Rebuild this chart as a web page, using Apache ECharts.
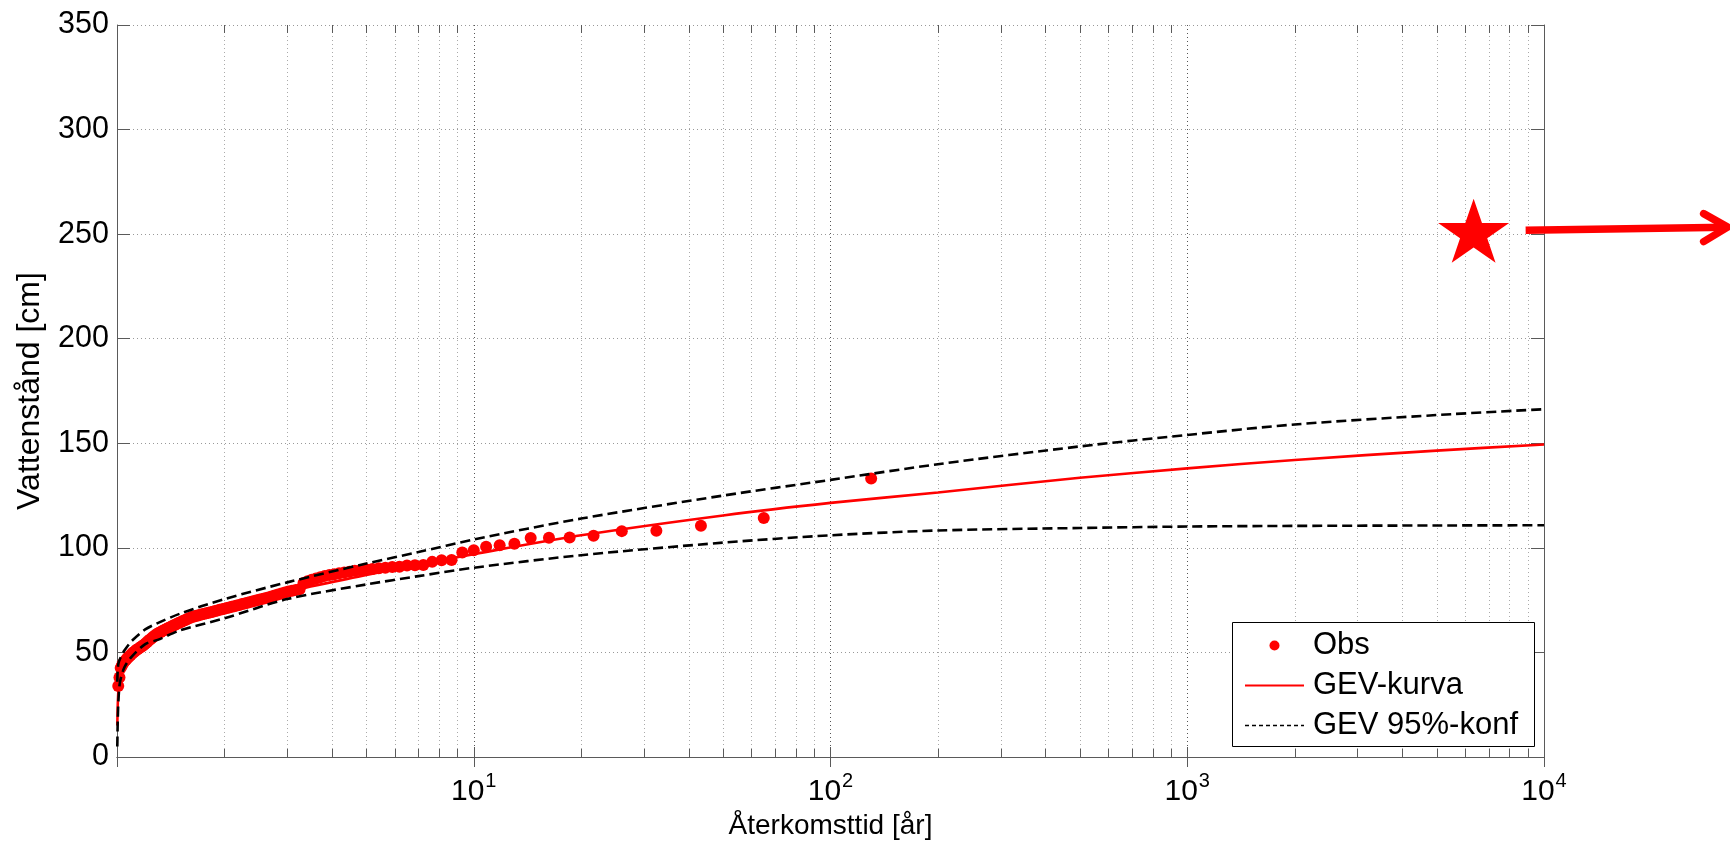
<!DOCTYPE html>
<html><head><meta charset="utf-8">
<script src="https://cdn.jsdelivr.net/npm/echarts@6/dist/echarts.min.js"></script>
<style>html,body{margin:0;padding:0;background:#fff}#c{width:1730px;height:845px}</style>
</head><body><div id="c"></div>
<script>
// Observations: return period [år] and water level [cm]
const obsT = [130,65,43.33,32.5,26,21.67,18.57,16.25,14.44,13,
11.82,10.83,10,9.286,8.667,8.125,7.647,7.222,6.842,6.5,
6.190,5.909,5.652,5.417,5.2,5,4.815,4.643,4.483,4.333,
4.194,4.063,3.939,3.824,3.714,3.611,3.514,3.421,3.333,3.25,
3.171,3.095,3.023,2.955,2.889,2.826,2.766,2.708,2.653,2.6,
2.549,2.5,2.453,2.407,2.364,2.321,2.281,2.241,2.203,2.167,
2.131,2.097,2.063,2.031,2,1.970,1.940,1.912,1.884,1.857,
1.831,1.806,1.781,1.757,1.733,1.711,1.688,1.667,1.646,1.625,
1.605,1.585,1.566,1.548,1.529,1.512,1.494,1.477,1.461,1.444,
1.429,1.413,1.398,1.383,1.368,1.354,1.340,1.327,1.313,1.3,
1.287,1.275,1.262,1.25,1.238,1.226,1.215,1.204,1.193,1.182,
1.171,1.161,1.150,1.140,1.130,1.121,1.111,1.102,1.092,1.083,
1.074,1.066,1.057,1.048,1.04,1.032,1.024,1.016,1.008];
const obsV = [133.2,114.3,110.6,108.2,108.0,105.8,104.9,104.8,104.7,102.0,
101.2,100.5,98.9,97.8,94.2,94.1,93.3,91.8,91.7,91.6,
91.0,90.8,90.5,90.2,89.9,89.6,89.3,89.0,88.6,88.2,
87.8,87.4,87.0,86.6,86.0,85.4,84.8,84.0,83.2,80.2,
79.8,79.5,79.1,78.7,78.2,77.7,77.2,76.7,76.3,75.9,
75.5,75.2,74.8,74.5,74.1,73.8,73.4,73.1,72.7,72.4,
72.1,71.8,71.5,71.2,70.9,70.6,70.4,70.1,69.8,69.5,
69.2,69.0,68.7,68.5,68.2,68.0,67.7,67.5,67.2,67.0,
66.6,66.2,65.8,65.4,65.0,64.6,64.2,63.8,63.4,63.0,
62.6,62.2,61.8,61.4,61.0,60.6,60.2,59.8,59.4,59.0,
58.5,58.0,57.4,56.8,56.2,55.6,55.0,54.4,53.8,53.2,
52.8,52.3,51.9,51.4,51.0,50.5,50.0,49.4,48.8,48.2,
47.6,47.0,46.3,45.6,44.8,43.8,42.5,38.0,34.0];

// GEV curve and 95% confidence bounds
const curveT = [1.002,1.005,1.01,1.02,1.05,1.1,1.2,1.3,1.5,2,3,5,7,10,20,50,100,200,500,1000,2000,5000,10000];
const gevV   = [15,25,33,40,45.5,50.5,55.5,59,64,70.5,79,87,92,97,106,115.5,121.5,126.5,133.5,138,142,146.5,149.4];
const upperV = [36,42,45,47,51,55.5,61,64,68.5,75.5,83.5,92.5,98,104,114,125,132.5,140,148.5,154,159,163.5,166.3];
const lowerV = [5,18,28,36,43,48,54,56,60.5,66.3,75.5,82.5,86.5,90.5,96.5,102.5,106,108.3,109.5,110.2,110.5,110.7,110.8];

// Marked level (star)
const starPoint = [6350, 250];

// Axis ticks
const yTicks = [0,50,100,150,200,250,300,350];
const minorXTicks = [2,3,4,5,6,7,8,9,20,30,40,50,60,70,80,90,200,300,400,500,600,700,800,900,2000,3000,4000,5000,6000,7000,8000,9000];

const FONT = '"Liberation Sans", Arial, Helvetica, sans-serif';
const zip = (a, b) => a.map((v, i) => [v, b[i]]);
const STAR = 'path://M50,0 L61.2,34.5 L97.6,34.5 L68.2,55.9 L79.4,90.5 L50,69.1 L20.6,90.5 L31.8,55.9 L2.4,34.5 L38.8,34.5 Z';

const chart = echarts.init(document.getElementById('c'), null, {renderer: 'canvas', width: 1730, height: 845});

const xLabelFmt = function (v) {
  const e = Math.round(Math.log10(v));
  if (e === 0) return '';
  return '{b|10}{s|' + e + '}';
};

const axisLineStyle = {color: '#5a5a5a', width: 1};

const option = {
  backgroundColor: '#fff',
  animation: false,
  grid: {left: 117, right: 186, top: 25, bottom: 88},
  xAxis: [{
    type: 'log', logBase: 10, min: 1, max: 10000,
    name: 'Återkomsttid [år]', nameLocation: 'middle', nameGap: 54,
    nameTextStyle: {fontSize: 28, fontFamily: FONT, color: '#000'},
    axisLine: {show: true, lineStyle: axisLineStyle},
    axisTick: {show: true, inside: true, length: 10, lineStyle: {color: '#5a5a5a'}},
    axisLabel: {
      formatter: xLabelFmt, margin: 14, color: '#000',
      rich: {
        b: {fontSize: 30, fontFamily: FONT, color: '#000', lineHeight: 36, verticalAlign: 'bottom'},
        s: {fontSize: 20, fontFamily: FONT, color: '#000', lineHeight: 36, verticalAlign: 'top', padding: [0, 0, 0, 1]}
      }
    },
    splitLine: {show: true, lineStyle: {color: '#555', width: 1, type: [1, 3]}}
  }, {
    type: 'log', logBase: 10, min: 1, max: 10000, position: 'top',
    axisLine: {show: true, lineStyle: axisLineStyle},
    axisTick: {show: true, inside: true, length: 10, lineStyle: {color: '#5a5a5a'}},
    axisLabel: {show: false}, splitLine: {show: false}
  }],
  yAxis: [{
    type: 'value', min: 0, max: 350, interval: 50,
    name: 'Vattenstånd [cm]', nameLocation: 'middle', nameGap: 71, nameRotate: 90,
    nameTextStyle: {fontSize: 32, fontFamily: FONT, color: '#000'},
    axisLine: {show: true, lineStyle: axisLineStyle},
    axisTick: {show: true, inside: true, length: 13, lineStyle: {color: '#5a5a5a'}},
    axisLabel: {fontSize: 30.5, fontFamily: FONT, color: '#000', margin: 8,
      formatter: v => yTicks.indexOf(v) >= 0 ? String(v) : ''},
    splitLine: {show: true, lineStyle: {color: '#999', width: 1, type: [1, 3]}}
  }, {
    type: 'value', min: 0, max: 350, interval: 50, position: 'right',
    axisLine: {show: true, lineStyle: axisLineStyle},
    axisTick: {show: true, inside: true, length: 13, lineStyle: {color: '#5a5a5a'}},
    axisLabel: {show: false}, splitLine: {show: false}
  }],
  legend: {
    orient: 'vertical', left: 1244, top: 630, padding: 0,
    itemWidth: 59, itemHeight: 10, itemGap: 9, z: 7,
    textStyle: {fontSize: 31, fontFamily: FONT, color: '#000', lineHeight: 31, padding: [0, 0, 0, 4]},
    data: [
      {name: 'Obs', icon: 'circle', itemStyle: {color: '#ff0000', opacity: 1}},
      {name: 'GEV-kurva', itemStyle: {opacity: 0}, lineStyle: {width: 2, color: '#ff0000', type: 'solid', opacity: 1}},
      {name: 'GEV 95%-konf', itemStyle: {opacity: 0}, lineStyle: {width: 1.3, color: '#000', type: [4, 3], opacity: 1}}
    ]
  },
  series: [
    {
      type: 'custom', name: 'minor', silent: true, z: 1,
      data: minorXTicks.map(v => [v, 0]),
      encode: {x: 0, y: 1},
      renderItem: function (params, api) {
        const x = api.value(0);
        const b = api.coord([x, 0]);
        const t = api.coord([x, 350]);
        const X = Math.round(b[0]) + 0.5;
        return {type: 'group', children: [
          {type: 'line', shape: {x1: X, y1: b[1], x2: X, y2: t[1]}, style: {stroke: '#aaa', lineWidth: 1, lineDash: [1, 3]}},
          {type: 'line', shape: {x1: X, y1: b[1], x2: X, y2: b[1] - 8}, style: {stroke: '#5a5a5a', lineWidth: 1}},
          {type: 'line', shape: {x1: X, y1: t[1], x2: X, y2: t[1] + 8}, style: {stroke: '#5a5a5a', lineWidth: 1}}
        ]};
      }
    },
    {
      type: 'scatter', name: 'Obs', data: zip(obsT, obsV), z: 3,
      symbol: 'circle', symbolSize: 12, itemStyle: {color: '#ff0000', opacity: 1}
    },
    {
      type: 'line', name: 'GEV-kurva', data: zip(curveT, gevV), z: 4,
      symbol: 'none', smooth: 0.3, lineStyle: {color: '#ff0000', width: 2.6}, itemStyle: {color: '#ff0000'}
    },
    {
      type: 'line', name: 'GEV 95%-konf', data: zip(curveT, upperV), z: 5,
      symbol: 'none', smooth: 0.3, lineStyle: {color: '#000', width: 2.6, type: [10, 5]}, itemStyle: {color: '#000'}
    },
    {
      type: 'line', name: 'GEV 95%-konf', data: zip(curveT, lowerV), z: 5,
      symbol: 'none', smooth: 0.3, lineStyle: {color: '#000', width: 2.6, type: [10, 5]}, itemStyle: {color: '#000'}
    },
    {
      type: 'scatter', name: 'star', data: [starPoint], z: 6,
      symbol: STAR, symbolSize: [71, 64], symbolOffset: [0, -3.5], symbolKeepAspect: false,
      itemStyle: {color: '#ff0000', opacity: 1}
    }
  ]
};
chart.setOption(option);

const p = chart.convertToPixel({xAxisIndex: 0, yAxisIndex: 0}, starPoint);
chart.setOption({
  graphic: [
    {type: 'rect', z: 6, shape: {x: 1232.5, y: 622.5, width: 302, height: 124},
      style: {fill: '#fff', stroke: '#000', lineWidth: 1}},
    {type: 'polyline', z: 8, shape: {points: [[p[0] + 52, p[1] - 4], [p[0] + 253, p[1] - 7]]},
      style: {stroke: '#ff0000', lineWidth: 7.5, lineCap: 'butt', fill: null}},
    {type: 'polyline', z: 8, shape: {points: [[p[0] + 230, p[1] - 20.5], [p[0] + 254, p[1] - 7], [p[0] + 230, p[1] + 7.5]]},
      style: {stroke: '#ff0000', lineWidth: 7.5, lineCap: 'round', lineJoin: 'round', fill: null}}
  ]
});
</script></body></html>
